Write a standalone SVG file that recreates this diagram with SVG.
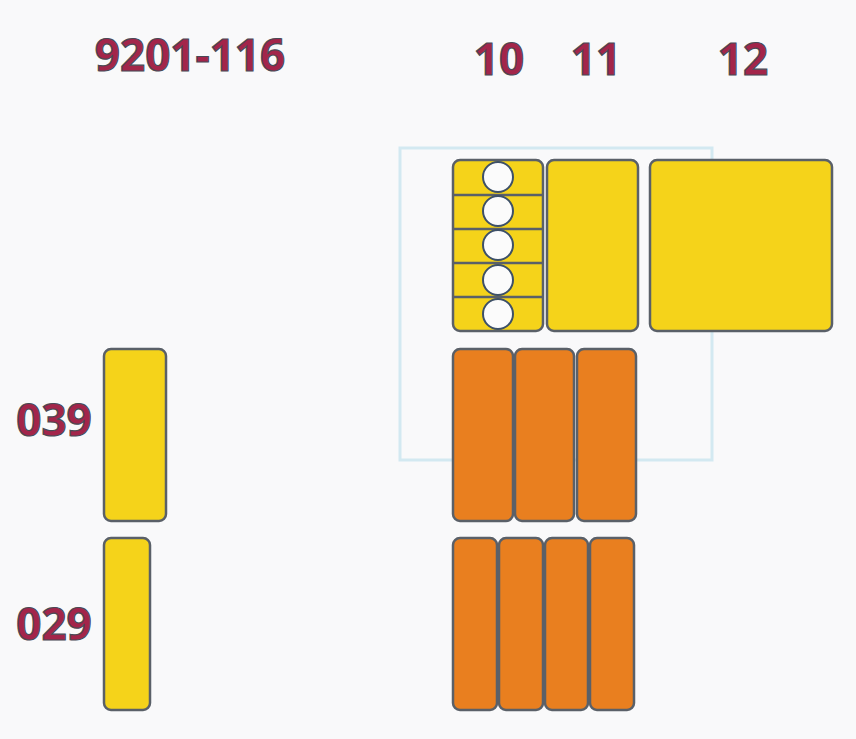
<svg xmlns="http://www.w3.org/2000/svg" width="856" height="739" viewBox="0 0 856 739">
<style>
.t{font-family:"Open Sans","Noto Sans",sans-serif;font-weight:bold;font-size:44px;fill:#a3254a;stroke:#4a4a55;stroke-width:1.2;text-anchor:middle}
.y{fill:#f5d31a;stroke:#5a6068;stroke-width:2.5}
.o{fill:#e97f1f;stroke:#5a6068;stroke-width:2.5}
.in{fill:none;stroke:#e8e0b0;stroke-width:1;opacity:.6}
.c{fill:#fbfbfb;stroke:#3d5068;stroke-width:2}
</style>
<rect width="856" height="739" fill="#f9f9fa"/>
<rect id="frame" x="400" y="148" width="312" height="312" fill="none" stroke="#d3e9f1" stroke-width="3"/>
<g id="labels">
<text class="t" x="190" y="71">9201-116</text>
<text class="t" x="499" y="75">10</text>
<text class="t" x="596" y="75">11</text>
<text class="t" x="743" y="75">12</text>
<text class="t" x="54" y="436">039</text>
<text class="t" x="54" y="640">029</text>
</g>
<g id="n10">
<rect class="y" x="453" y="160" width="90" height="171" rx="7"/>
<g stroke="#5a6068" stroke-width="2.5"><line x1="453" y1="195" x2="543" y2="195"/><line x1="453" y1="229" x2="543" y2="229"/><line x1="453" y1="263" x2="543" y2="263"/><line x1="453" y1="297" x2="543" y2="297"/></g>
<circle class="c" cx="498" cy="177" r="15"/><circle class="c" cx="498" cy="211" r="15"/><circle class="c" cx="498" cy="245" r="15"/><circle class="c" cx="498" cy="280" r="15"/><circle class="c" cx="498" cy="314" r="15"/>
</g>
<g id="n11"><rect class="y" x="547" y="160" width="91" height="171" rx="7"/></g>
<g id="n12"><rect class="y" x="650" y="160" width="182" height="171" rx="7"/></g>
<g id="orange1">
<rect class="o" x="453" y="349" width="60" height="172" rx="7"/>
<rect class="o" x="515" y="349" width="59" height="172" rx="7"/>
<rect class="o" x="577" y="349" width="59" height="172" rx="7"/>
</g>
<g id="orange2">
<rect class="o" x="453" y="538" width="44" height="172" rx="7"/>
<rect class="o" x="499" y="538" width="44" height="172" rx="7"/>
<rect class="o" x="545" y="538" width="43" height="172" rx="7"/>
<rect class="o" x="590" y="538" width="44" height="172" rx="7"/>
</g>
<g id="n039"><rect class="y" x="104" y="349" width="62" height="172" rx="7"/></g>
<g id="n029"><rect class="y" x="104" y="538" width="46" height="172" rx="7"/></g>
<g id="connectors"></g>
</svg>
